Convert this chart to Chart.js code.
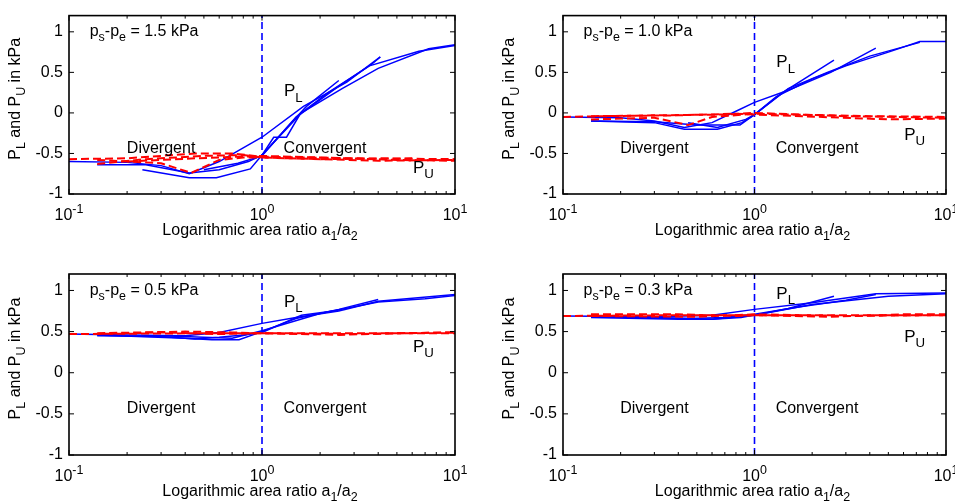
<!DOCTYPE html>
<html>
<head>
<meta charset="utf-8">
<script src="https://cdn.jsdelivr.net/npm/chart.js@4.4.1/dist/chart.umd.min.js"></script>
<style>
  html, body { margin: 0; padding: 0; background: #fff; }
  #wrap { position: relative; width: 955px; height: 502px; overflow: hidden; background: #fff; }
  #wrap canvas { position: absolute; left: 0; top: 0; }
</style>
</head>
<body>
<div id="wrap">
  <canvas id="c0" width="955" height="502"></canvas>
  <canvas id="c1" width="955" height="502"></canvas>
  <canvas id="c2" width="955" height="502"></canvas>
  <canvas id="c3" width="955" height="502"></canvas>
</div>
<script>
// ---- axis settings ----
const xMajorTicks = [0.1, 1, 10];
const xMajorExp = ['-1', '0', '1'];
const xMinorTicks = [0.2, 0.3, 0.4, 0.5, 0.6, 0.7, 0.8, 0.9, 2, 3, 4, 5, 6, 7, 8, 9];
const yTickValues = [-1, -0.5, 0, 0.5, 1];

// ---- pressure difference of each panel (kPa) ----
const pressureDiffs = ['1.5', '1.0', '0.5', '0.3'];

// ---- P_L traces (blue), [area ratio, kPa] ----
const pL_15 = [
  [[0.1,-0.6],[0.2,-0.61],[0.3,-0.65],[0.42,-0.75],[0.6,-0.6],[1,-0.3],[1.64,0.08],[2.75,0.38],[4.1,0.69]],
  [[0.14,-0.64],[0.25,-0.64],[0.42,-0.74],[0.6,-0.7],[0.85,-0.6],[1,-0.52],[1.15,-0.3],[1.34,-0.3],[1.57,-0.02],[2.5,0.33],[3.6,0.58],[6.5,0.76],[10,0.83]],
  [[0.24,-0.7],[0.42,-0.8],[0.58,-0.8],[0.87,-0.69],[1,-0.52],[1.3,-0.22],[1.7,0.08],[2.5,0.4]],
  [[0.5,-0.7],[0.75,-0.62],[1,-0.53],[1.5,-0.05],[2.2,0.25],[3.7,0.6],[4.1,0.69]],
  [[1,-0.52],[1.6,0.0],[2.6,0.3],[4,0.55],[7.3,0.79],[10,0.84]]
];
const pL_10 = [
  [[0.1,-0.05],[0.2,-0.06],[0.3,-0.1],[0.43,-0.18],[0.6,-0.12],[0.8,0.02],[1,0.13],[1.5,0.28],[2.5,0.5],[4.3,0.8]],
  [[0.14,-0.1],[0.3,-0.12],[0.43,-0.2],[0.64,-0.2],[0.86,-0.12],[1,-0.02],[1.4,0.25],[2.6,0.65]],
  [[0.14,-0.1],[0.3,-0.11],[0.5,-0.15],[0.64,-0.15],[0.84,-0.15],[1,-0.02],[1.3,0.2],[2,0.42],[3,0.58],[5,0.75],[7.3,0.88],[10,0.88]],
  [[0.45,-0.12],[0.64,-0.18],[0.9,-0.08],[1,-0.02],[1.5,0.3],[2.4,0.5],[4,0.7],[7.3,0.87]]
];
const pL_05 = [
  [[0.1,0.47],[0.2,0.46],[0.4,0.45],[0.6,0.49],[1,0.6],[1.5,0.67],[2.5,0.75],[4,0.87],[10,0.95]],
  [[0.14,0.45],[0.3,0.44],[0.45,0.41],[0.6,0.43],[0.8,0.46],[1,0.49],[1.6,0.7],[2.5,0.76]],
  [[0.14,0.46],[0.4,0.42],[0.55,0.4],[0.76,0.4],[1,0.5],[1.5,0.66],[2.5,0.77],[4,0.89]],
  [[0.3,0.45],[0.5,0.43],[0.7,0.42],[1,0.51],[2,0.72],[4,0.86],[7,0.9],[10,0.94]]
];
const pL_03 = [
  [[0.1,0.69],[0.3,0.68],[0.6,0.7],[1,0.77],[2,0.85],[4.3,0.96],[10,0.97]],
  [[0.14,0.67],[0.4,0.65],[0.6,0.65],[0.85,0.67],[1,0.7],[1.5,0.78],[2.6,0.93]],
  [[0.14,0.68],[0.45,0.66],[0.7,0.67],[1,0.71],[1.7,0.8],[3,0.88],[4.3,0.95]],
  [[0.3,0.67],[0.6,0.65],[1,0.7],[2,0.83],[5,0.93],[10,0.96]]
];

// ---- P_U traces (red dashed), [area ratio, kPa] ----
const pU_15 = [
  [[0.1,-0.57],[0.2,-0.56],[0.45,-0.5],[0.7,-0.5],[1,-0.54],[3,-0.56],[10,-0.57]],
  [[0.14,-0.63],[0.25,-0.57],[0.5,-0.53],[0.8,-0.52],[1,-0.55],[4,-0.59],[10,-0.58]],
  [[0.14,-0.58],[0.3,-0.62],[0.43,-0.74],[0.6,-0.58],[0.8,-0.55],[1,-0.55],[2,-0.57],[6,-0.56]],
  [[0.2,-0.6],[0.45,-0.56],[1,-0.53],[2,-0.55],[5,-0.58],[10,-0.59]]
];
const pU_10 = [
  [[0.1,-0.05],[0.3,-0.03],[0.7,-0.02],[1,0.0],[3,-0.04],[10,-0.06]],
  [[0.14,-0.08],[0.3,-0.06],[0.45,-0.15],[0.6,-0.05],[1,-0.01],[4,-0.04],[10,-0.05]],
  [[0.14,-0.04],[0.4,-0.03],[0.8,-0.01],[1,-0.02],[5,-0.08],[10,-0.07]]
];
const pU_05 = [
  [[0.1,0.47],[0.5,0.48],[1,0.48],[3,0.48],[10,0.48]],
  [[0.14,0.48],[0.4,0.5],[0.7,0.49],[1,0.48],[2.5,0.46],[5,0.48],[10,0.49]],
  [[0.14,0.47],[0.3,0.49],[0.6,0.47],[1,0.48],[3,0.47],[10,0.49]]
];
const pU_03 = [
  [[0.1,0.69],[0.5,0.7],[1,0.7],[3,0.7],[10,0.7]],
  [[0.14,0.71],[0.4,0.71],[0.8,0.69],[1,0.7],[2.5,0.68],[6,0.71],[10,0.71]],
  [[0.14,0.69],[0.5,0.68],[1,0.71],[3,0.69],[10,0.7]]
];

// ---- label heights (kPa) for the P_L / P_U captions ----
const pLLabelY = [0.285, 0.636, 0.879, 0.976];
const pULabelY = [-0.66, -0.255, 0.332, 0.453];

const lowerTraces = [pL_15, pL_10, pL_05, pL_03];
const upperTraces = [pU_15, pU_10, pU_05, pU_03];

// plot-area rectangles on the page
const frames = [
  { left: 69,  right: 455, top: 13,  bottom: 194 },
  { left: 563, right: 946, top: 13,  bottom: 194 },
  { left: 69,  right: 455, top: 274, bottom: 455 },
  { left: 563, right: 946, top: 274, bottom: 455 }
];

const FONT = '"Liberation Sans", Arial, Helvetica, sans-serif';
const FT = 16;      // tick labels, titles and captions

// draws text made of [string, mode] pieces: mode 0 normal, -1 subscript, 1 superscript
function richWidth(ctx, parts, size) {
  let w = 0;
  for (const [t, m] of parts) {
    ctx.font = (m ? size * 0.78 : size) + 'px ' + FONT;
    w += ctx.measureText(t).width;
  }
  return w;
}
function drawRich(ctx, parts, x, yBase, size, align) {
  const w = richWidth(ctx, parts, size);
  let cx = align === 'center' ? x - w / 2 : (align === 'right' ? x - w : x);
  ctx.textAlign = 'left';
  ctx.textBaseline = 'alphabetic';
  for (const [t, m] of parts) {
    ctx.font = (m ? size * 0.78 : size) + 'px ' + FONT;
    const dy = m === -1 ? size * 0.33 : (m === 1 ? -size * 0.45 : 0);
    ctx.fillText(t, cx, yBase + dy);
    cx += ctx.measureText(t).width;
  }
}

const framePlugin = {
  id: 'frame',
  afterDraw(chart) {
    const ctx = chart.ctx;
    const ca = chart.chartArea;
    const xs = chart.scales.x, ys = chart.scales.y;
    const idx = chart.options.plugins.frame.index;
    ctx.save();
    ctx.strokeStyle = '#000';
    ctx.fillStyle = '#000';
    ctx.lineWidth = 1.6;
    ctx.setLineDash([]);
    ctx.strokeRect(ca.left, ca.top, ca.right - ca.left, ca.bottom - ca.top);

    // inward ticks on all four sides
    ctx.lineWidth = 1;
    ctx.beginPath();
    for (const v of xMajorTicks) {
      const px = xs.getPixelForValue(v);
      ctx.moveTo(px, ca.bottom); ctx.lineTo(px, ca.bottom - 5);
      ctx.moveTo(px, ca.top); ctx.lineTo(px, ca.top + 5);
    }
    for (const v of xMinorTicks) {
      const px = xs.getPixelForValue(v);
      ctx.moveTo(px, ca.bottom); ctx.lineTo(px, ca.bottom - 3);
      ctx.moveTo(px, ca.top); ctx.lineTo(px, ca.top + 3);
    }
    for (const v of yTickValues) {
      const py = ys.getPixelForValue(v);
      ctx.moveTo(ca.left, py); ctx.lineTo(ca.left + 5, py);
      ctx.moveTo(ca.right, py); ctx.lineTo(ca.right - 5, py);
    }
    ctx.stroke();

    // x tick labels 10^n
    xMajorTicks.forEach((v, k) => {
      const px = xs.getPixelForValue(v);
      drawRich(ctx, [['10', 0], [xMajorExp[k], 1]], px, ca.bottom + 26, FT, 'center');
    });

    // axis titles
    drawRich(ctx, [['Logarithmic area ratio a', 0], ['1', -1], ['/a', 0], ['2', -1]],
      (ca.left + ca.right) / 2 - 2, ca.bottom + 41, FT, 'center');
    ctx.save();
    ctx.translate(ca.left - 49, (ca.top + ca.bottom) / 2 - 6);
    ctx.rotate(-Math.PI / 2);
    drawRich(ctx, [['P', 0], ['L', -1], [' and P', 0], ['U', -1], [' in kPa', 0]], 0, 0, FT, 'center');
    ctx.restore();

    // captions placed in data coordinates
    const at = (x, y, s) => [xs.getPixelForValue(x), ys.getPixelForValue(y) + s * 0.36];
    let p;
    p = at(0.128, 1.02, FT);
    drawRich(ctx, [['p', 0], ['s', -1], ['-p', 0], ['e', -1], [' = ' + pressureDiffs[idx] + ' kPa', 0]], p[0], p[1], FT, 'left');
    p = at(1.3, pLLabelY[idx], 17);
    drawRich(ctx, [['P', 0], ['L', -1]], p[0], p[1], 17, 'left');
    p = at(6.05, pULabelY[idx], 17);
    drawRich(ctx, [['P', 0], ['U', -1]], p[0], p[1], 17, 'left');
    p = at(0.30, -0.42, FT);
    drawRich(ctx, [['Divergent', 0]], p[0], p[1], FT, 'center');
    p = at(2.12, -0.42, FT);
    drawRich(ctx, [['Convergent', 0]], p[0], p[1], FT, 'center');
    ctx.restore();
  }
};

function toPoints(s) { return s.map(q => ({ x: q[0], y: q[1] })); }

function makePanel(i) {
  const f = frames[i];
  const datasets = [];
  for (const s of upperTraces[i]) {
    datasets.push({ data: toPoints(s), borderColor: '#ff0000', borderWidth: 2,
      borderDash: [8, 4], pointRadius: 0, showLine: true, tension: 0 });
  }
  for (const s of lowerTraces[i]) {
    datasets.push({ data: toPoints(s), borderColor: '#0000ff', borderWidth: 1.5,
      pointRadius: 0, showLine: true, tension: 0 });
  }
  // boundary between divergent and convergent shapes
  datasets.push({ data: [{ x: 1, y: -1 }, { x: 1, y: 1.2 }], borderColor: '#0000ff',
    borderWidth: 1.6, borderDash: [7, 4], pointRadius: 0, showLine: true });

  new Chart(document.getElementById('c' + i), {
    type: 'scatter',
    data: { datasets },
    options: {
      responsive: false,
      animation: false,
      devicePixelRatio: 1,
      events: [],
      layout: { padding: { left: 0, top: f.top, right: 955 - f.right, bottom: 502 - f.bottom } },
      plugins: { legend: { display: false }, tooltip: { enabled: false }, frame: { index: i } },
      scales: {
        x: {
          type: 'logarithmic', min: 0.1, max: 10,
          ticks: { display: false }, grid: { display: false, drawTicks: false }, border: { display: false },
          afterFit(s) { s.height = 0; }
        },
        y: {
          type: 'linear', min: -1, max: 1.2,
          ticks: { color: '#000', padding: 6, font: { family: FONT, size: FT }, callback: v => String(v) },
          grid: { display: false, drawTicks: false }, border: { display: false },
          afterBuildTicks(s) { s.ticks = yTickValues.map(v => ({ value: v })); },
          afterFit(s) { s.width = f.left; }
        }
      }
    },
    plugins: [framePlugin]
  });
}

for (let i = 0; i < 4; i++) makePanel(i);
</script>
</body>
</html>
